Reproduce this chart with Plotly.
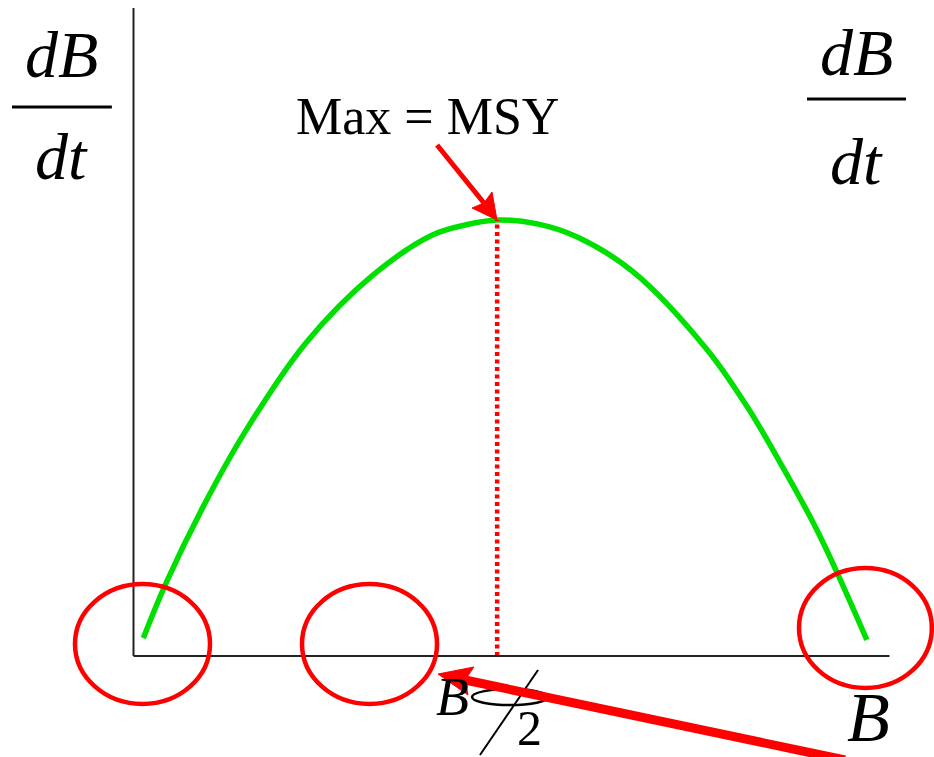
import plotly.graph_objects as go

# ---- data ----
biomass = [1.3, 4.3, 9.2, 14.9, 22.8, 31.7, 39.6, 44.0, 48.1,
           53.4, 58.7, 66.1, 75.9, 81.2, 84.6, 90.4, 97.0]
growth = [4.1, 16.7, 34.2, 51.8, 71.8, 87.4, 96.6, 98.9, 100.0,
          99.1, 96.1, 88.1, 70.2, 57.1, 47.2, 28.9, 3.7]
msy_biomass = [48.1]
msy_growth = [100.0]
axis_x_max = [100.0]
axis_y_max = [148.6]

RED = "#ff0000"
GREEN = "#00e000"
SERIF = "Liberation Serif, Times New Roman, serif"

fig = go.Figure()

fig.add_trace(go.Scatter(
    x=biomass, y=growth, mode="lines",
    line=dict(color=GREEN, width=5.5, shape="spline", smoothing=1.0),
    hoverinfo="skip", showlegend=False))

# dotted MSY line
fig.add_trace(go.Scatter(
    x=[msy_biomass[0], msy_biomass[0]], y=[0, msy_growth[0]], mode="lines",
    line=dict(color=RED, width=4.5, dash="4px,3.5px"),
    hoverinfo="skip", showlegend=False))

shapes = []
# axes
shapes.append(dict(type="line", x0=0, y0=0, x1=axis_x_max[0], y1=0,
                   line=dict(color="#222", width=2)))
shapes.append(dict(type="line", x0=0, y0=0, x1=0, y1=axis_y_max[0],
                   line=dict(color="#222", width=2)))
# red ellipses
for (a, b, c, d) in [(-7.74, -11.0, 10.12, 16.5), (22.29, -11.0, 40.15, 16.5),
                     (88.03, -7.34, 105.6, 20.18)]:
    shapes.append(dict(type="circle", x0=a, y0=b, x1=c, y1=d,
                       line=dict(color=RED, width=4.5)))
# fraction bars
shapes.append(dict(type="line", x0=-16.07, y0=125.92, x1=-2.86, y1=125.92,
                   line=dict(color="black", width=3)))
shapes.append(dict(type="line", x0=89.09, y0=127.75, x1=102.18, y1=127.75,
                   line=dict(color="black", width=3)))
# B/2 glyph pieces
shapes.append(dict(type="circle", x0=44.78, y0=-11.24, x1=54.83, y1=-7.57,
                   line=dict(color="black", width=2.5)))
shapes.append(dict(type="line", x0=53.51, y0=-3.21, x1=45.83, y1=-22.71,
                   line=dict(color="black", width=2)))
# Max arrow
shapes.append(dict(type="line", x0=40.15, y0=117.2, x1=46.36, y1=103.9,
                   line=dict(color=RED, width=5)))
shapes.append(dict(type="path",
                   path="M 48.08 100.0 L 44.78 102.75 L 46.36 103.9 L 47.42 106.42 Z",
                   fillcolor=RED, line=dict(color=RED, width=1)))
# big arrow
shapes.append(dict(type="line", x0=94.11, y0=-23.85, x1=43.85, y1=-5.5,
                   line=dict(color=RED, width=9)))
shapes.append(dict(type="path",
                   path="M 40.28 -4.13 L 45.04 -2.52 L 43.85 -5.5 L 44.25 -8.94 Z",
                   fillcolor=RED, line=dict(color=RED, width=1)))

annotations = [
    dict(x=-9.59, y=138.07, text="<i>dB</i>", font=dict(size=66)),
    dict(x=-9.59, y=114.68, text="<i>dt</i>", font=dict(size=66)),
    dict(x=95.63, y=138.53, text="<i>dB</i>", font=dict(size=66)),
    dict(x=95.63, y=113.53, text="<i>dt</i>", font=dict(size=66)),
    dict(x=38.89, y=123.74, text="Max = MSY", font=dict(size=52)),
    dict(x=42.15, y=-9.4, text="<i>B</i>", font=dict(size=54)),
    dict(x=52.38, y=-16.51, text="2", font=dict(size=50)),
    dict(x=97.22, y=-13.99, text="<i>B</i>", font=dict(size=70)),
]
for a in annotations:
    a.update(showarrow=False, xanchor="center", yanchor="middle",
             xref="x", yref="y")
    a["font"].update(family=SERIF, color="black")

fig.update_layout(
    width=934, height=757, autosize=False,
    margin=dict(l=0, r=0, t=0, b=0, pad=0),
    paper_bgcolor="white", plot_bgcolor="white",
    shapes=shapes, annotations=annotations, showlegend=False,
    xaxis=dict(range=[-17.659, 105.886], visible=False, fixedrange=True),
    yaxis=dict(range=[-23.165, 150.459], visible=False, fixedrange=True),
)

fig.write_html("out.html", config={"displayModeBar": False},
               post_script="document.body.style.margin='0';"
                           "document.body.style.overflow='hidden';")
